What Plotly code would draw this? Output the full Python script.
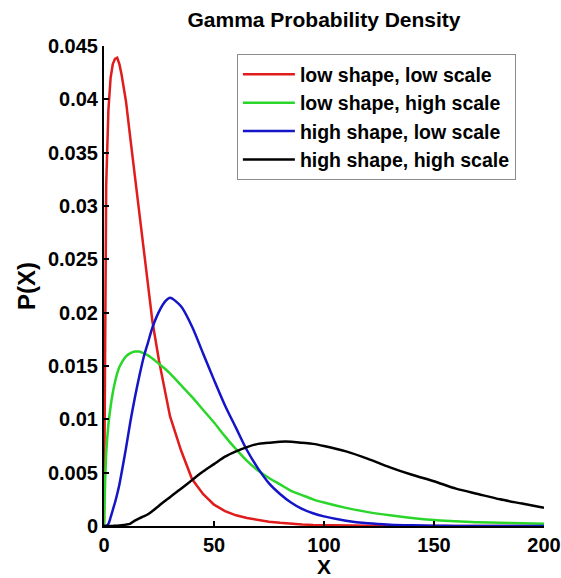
import plotly.graph_objects as go

# Common x grid
x_vals = [0, 1, 2, 3, 4, 5, 6, 7, 8, 10, 12, 14, 16, 18, 20, 22, 25, 28, 30, 35, 40, 45,
          50, 55, 60, 65, 70, 75, 80, 85, 90, 95, 100, 110, 120, 130, 140, 150, 160,
          170, 180, 190, 200]

red_vals = [0, 0.032, 0.039, 0.042, 0.0433, 0.0438, 0.0439, 0.0433, 0.0423, 0.0398, 0.0363,
            0.0328, 0.0294, 0.0259, 0.0225, 0.0192, 0.0155, 0.0122, 0.0103, 0.0071, 0.0044,
            0.0030, 0.0020, 0.0014, 0.0010, 0.00075, 0.00055, 0.0004, 0.0003, 0.0002,
            0.00015, 0.0001, 0.00008, 0.00004, 0.00002, 0.00001, 0, 0, 0, 0, 0, 0, 0]

green_vals = [0, 0.0068, 0.0095, 0.0112, 0.0125, 0.0135, 0.0143, 0.0149, 0.0153, 0.0159,
              0.0162, 0.01635, 0.01635, 0.0162, 0.0160, 0.0157, 0.0152, 0.0147, 0.0143,
              0.0132, 0.0121, 0.0109, 0.0097, 0.0084, 0.0072, 0.0061, 0.0052, 0.0045,
              0.0039, 0.0033, 0.0029, 0.0025, 0.0022, 0.0017, 0.0013, 0.0010, 0.00075,
              0.00056, 0.00045, 0.00035, 0.0003, 0.00025, 0.0002]

blue_vals = [0, 0.00002, 0.0002, 0.0008, 0.0015, 0.0022, 0.0030, 0.0039, 0.0050, 0.0073,
             0.0098, 0.0120, 0.0140, 0.0158, 0.0172, 0.0186, 0.0201, 0.0211, 0.0214,
             0.0206, 0.0187, 0.0162, 0.0137, 0.0113, 0.0092, 0.0071, 0.0054, 0.0040,
             0.0030, 0.0022, 0.0016, 0.0012, 0.0009, 0.0005, 0.00025, 0.00012, 0.00006,
             0.00003, 0.00001, 0, 0, 0, 0]

black_vals = [0, 0, 0.000001, 0.000004, 0.00001, 0.00002, 0.00003, 0.00005, 0.00007,
              0.00013, 0.00023, 0.0005, 0.00072, 0.0009, 0.0011, 0.0014, 0.0019, 0.0024,
              0.0027, 0.0035, 0.0043, 0.0051, 0.0058, 0.0065, 0.0070, 0.0074, 0.0077,
              0.0078, 0.0079, 0.0079, 0.0078, 0.0077, 0.0075, 0.0070, 0.0063, 0.0055,
              0.0048, 0.0042, 0.0035, 0.0030, 0.0025, 0.0021, 0.0017]

series_names = ["low shape, low scale", "low shape, high scale",
                "high shape, low scale", "high shape, high scale"]
series_colors = ["#e01c1c", "#2ad62a", "#1414c8", "#000000"]
series_shapes = ["linear", "spline", "spline", "spline"]
series_vals = [red_vals, green_vals, blue_vals, black_vals]

x_ticks = [0, 50, 100, 150, 200]
y_ticks = [0, 0.005, 0.01, 0.015, 0.02, 0.025, 0.03, 0.035, 0.04, 0.045]
y_ticktext = ["0", "0.005", "0.01", "0.015", "0.02", "0.025", "0.03", "0.035", "0.04", "0.045"]

FONT = "Liberation Sans, Arial, sans-serif"

fig = go.Figure()
for name, col, shp, vals in zip(series_names, series_colors, series_shapes, series_vals):
    fig.add_trace(go.Scatter(x=x_vals, y=vals, mode="lines", name=name,
                             line=dict(color=col, width=2.5, shape=shp, smoothing=0.8),
                             cliponaxis=True))

fig.update_layout(
    width=561, height=578,
    margin=dict(l=104, r=17, t=46, b=52, autoexpand=False),
    paper_bgcolor="white", plot_bgcolor="white",
    font=dict(family=FONT, color="black", size=19, weight="bold"),
    title=dict(text="Gamma Probability Density", x=0.5, xref="paper", xanchor="center",
               y=1 - 20 / 578, yref="container", yanchor="middle",
               font=dict(family=FONT, size=21, weight="bold", color="black")),
    showlegend=True,
    legend=dict(x=0.302, y=0.983, xanchor="left", yanchor="top",
                bgcolor="white", bordercolor="#8c8c8c", borderwidth=1,
                font=dict(family=FONT, size=19.5, weight="bold", color="black"),
                tracegroupgap=0, itemwidth=52),
)
fig.update_xaxes(range=[0, 200], tickvals=x_ticks, ticks="inside", ticklen=5, tickwidth=2,
                 tickcolor="black", showline=True, linecolor="black", linewidth=2,
                 showgrid=False, zeroline=False, mirror=False, automargin=False,
                 title=dict(text="X", standoff=7, font=dict(family=FONT, size=21, weight="bold")),
                 tickfont=dict(family=FONT, size=20, weight="bold"))
fig.update_yaxes(range=[0, 0.045], tickvals=y_ticks, ticktext=y_ticktext, ticks="inside",
                 ticklen=5, tickwidth=2, tickcolor="black", showline=True, linecolor="black",
                 linewidth=2, showgrid=False, zeroline=False, mirror=False, automargin=False,
                 title=dict(text="P(X)", standoff=6, font=dict(family=FONT, size=24, weight="bold")),
                 tickfont=dict(family=FONT, size=20, weight="bold"))

fig.write_html("out.html")
